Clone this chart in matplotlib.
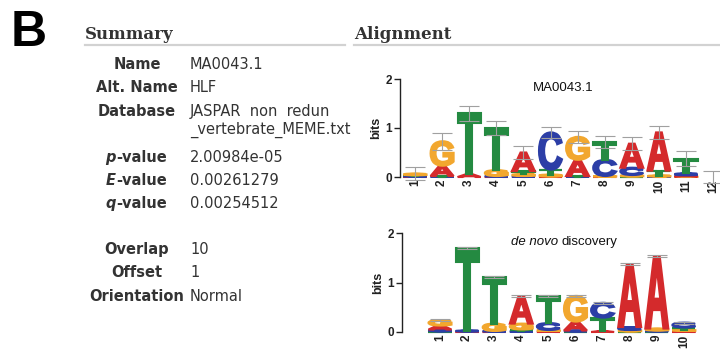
import matplotlib
matplotlib.use('Agg')
import matplotlib.pyplot as plt
import matplotlib.transforms as mtransforms
from matplotlib.font_manager import FontProperties
from matplotlib.lines import Line2D
from matplotlib.patches import PathPatch
from matplotlib.textpath import TextPath

W, H = 720, 352

# --- summary table ---
summary_labels = ['Name', 'Alt. Name', 'Database', 'p-value', 'E-value', 'q-value',
                  'Overlap', 'Offset', 'Orientation']
summary_values = ['MA0043.1', 'HLF', 'JASPAR  non  redun\n_vertebrate_MEME.txt',
                  '2.00984e-05', '0.00261279', '0.00254512', '10', '1', 'Normal']

# --- reference motif MA0043.1 (bits per base) ---
ref_positions = [1, 2, 3, 4, 5, 6, 7, 8, 9, 10, 11, 12]
ref_A = [0.010, 0.21, 0.06, 0.01, 0.38, 0.01, 0.33, 0.01, 0.49, 0.78, 0.025, 0.0]
ref_C = [0.010, 0.01, 0.00, 0.01, 0.02, 0.76, 0.01, 0.33, 0.15, 0.01, 0.040, 0.0]
ref_G = [0.035, 0.50, 0.00, 0.12, 0.04, 0.04, 0.47, 0.01, 0.03, 0.02, 0.010, 0.0]
ref_T = [0.015, 0.01, 1.24, 0.86, 0.06, 0.10, 0.01, 0.36, 0.01, 0.10, 0.300, 0.0]
ref_err = [0.14, 0.17, 0.15, 0.14, 0.13, 0.12, 0.12, 0.12, 0.13, 0.13, 0.15, 0.12]

# --- de novo motif ---
dn_positions = [1, 2, 3, 4, 5, 6, 7, 8, 9, 10]
dn_A = [0.08, 0.01, 0.01, 0.55, 0.02, 0.18, 0.02, 1.27, 1.46, 0.02]
dn_C = [0.04, 0.02, 0.01, 0.02, 0.14, 0.02, 0.30, 0.06, 0.02, 0.10]
dn_G = [0.11, 0.00, 0.15, 0.12, 0.02, 0.52, 0.00, 0.03, 0.04, 0.03]
dn_T = [0.01, 1.66, 0.95, 0.03, 0.54, 0.01, 0.27, 0.01, 0.01, 0.04]
dn_err = [0.02, 0.02, 0.02, 0.02, 0.02, 0.02, 0.02, 0.02, 0.02, 0.02]

BASE_COLORS = {'A': '#d42a2c', 'C': '#2c3ea6', 'G': '#f2a72e', 'T': '#248a41'}
TEXT = '#333333'
LOGO_FAMILY = 'Liberation Sans'

GLYPH_FONT = FontProperties(family=LOGO_FAMILY, weight='bold')
GLYPHS = {b: TextPath((0, 0), b, size=1, prop=GLYPH_FONT) for b in 'ACGT'}


def fx(x):
    return x / W


def fy(y):
    return 1 - y / H


def draw_letter(ax, base, x, y, w, h):
    if h <= 0:
        return
    path = GLYPHS[base]
    ext = path.get_extents()
    t = (mtransforms.Affine2D()
         .translate(-ext.x0, -ext.y0)
         .scale(w / ext.width, h / ext.height)
         .translate(x - w / 2, y))
    c = BASE_COLORS[base]
    # stroke in the fill colour makes the stems heavier
    ax.add_patch(PathPatch(t.transform_path(path), lw=1.5, ec=c, fc=c,
                           joinstyle='miter', clip_on=False, zorder=2))


def draw_logo(ax, positions, A, C, G, T, errs):
    tops = []
    for i, pos in enumerate(positions):
        col = sorted(zip([A[i], C[i], G[i], T[i]], 'ACGT'))
        y = 0.0
        for h, b in col:
            draw_letter(ax, b, pos, y, 0.85, h)
            y += h
        tops.append(y)
    ax.errorbar(positions, tops, yerr=errs, fmt='none', ecolor='#a0a0a0',
                elinewidth=0.8, capsize=7, capthick=0.8, zorder=3, clip_on=False)

    ax.set_ylim(0, 2)
    for s in ['top', 'right', 'bottom']:
        ax.spines[s].set_visible(False)
    ax.spines['left'].set_color('#222222')
    ax.spines['left'].set_linewidth(1.0)
    ax.set_yticks([0, 1, 2])
    ax.set_yticklabels(['0', '1', '2'], fontsize=8.5, fontweight='bold',
                       family=LOGO_FAMILY, color='#222222')
    ax.tick_params(axis='y', length=4, width=1, pad=2, color='#222222')
    ax.set_xticks(positions)
    ax.set_xticklabels([str(p) for p in positions], rotation=90, fontsize=8.5,
                       fontweight='bold', family=LOGO_FAMILY, color='#222222')
    ax.tick_params(axis='x', length=0, pad=2)
    ax.set_ylabel('bits', fontsize=9, fontweight='bold', family=LOGO_FAMILY,
                  color='#222222', labelpad=2)
    ax.patch.set_alpha(0)


fig = plt.figure(figsize=(7.2, 3.52), dpi=100)

# panel letter
fig.text(fx(11), fy(46), 'B', fontsize=36, fontweight='bold', family=LOGO_FAMILY,
         va='baseline', ha='left', color='black')

# section headings with grey rules
for label, x0, x1 in [('Summary', 85, 345), ('Alignment', 354, 720)]:
    fig.text(fx(x0), fy(39), label, fontsize=12, fontweight='bold',
             family='DejaVu Serif', color=TEXT, va='baseline', ha='left')
    fig.add_artist(Line2D([fx(x0), fx(x1)], [fy(45), fy(45)], color='#d2d2d2', lw=1.6))

# summary rows
row_y = [64, 87, 111, 157, 180, 203, 249, 272, 296]
label_x, value_x = 137, 190
for lab, val, y in zip(summary_labels, summary_values, row_y):
    base = fy(y + 5.3)
    if lab.endswith('-value'):
        split = 116
        fig.text(fx(split), base, lab[0], fontsize=10.5, fontweight='bold',
                 style='italic', color=TEXT, ha='right', va='baseline')
        fig.text(fx(split), base, lab[1:], fontsize=10.5, fontweight='bold',
                 color=TEXT, ha='left', va='baseline')
    else:
        fig.text(fx(label_x), base, lab, fontsize=10.5, fontweight='bold',
                 color=TEXT, ha='center', va='baseline')
    for k, line in enumerate(val.split('\n')):
        fig.text(fx(value_x), fy(y + 5.3 + 17 * k), line, fontsize=10.5,
                 color=TEXT, ha='left', va='baseline')

# logo axes, one column = 27.1 px; de novo motif sits one column right (offset 1)
col_px = 27.1
ax1 = fig.add_axes([fx(400), fy(177), 320 / W, 98 / H])
ax1.set_xlim(1 - 15 / col_px, 1 - 15 / col_px + 320 / col_px)
draw_logo(ax1, ref_positions, ref_A, ref_C, ref_G, ref_T, ref_err)
fig.text(fx(563), fy(88), 'MA0043.1', fontsize=9.5, family=LOGO_FAMILY,
         color='#111111', ha='center', va='center')

ax2 = fig.add_axes([fx(402), fy(332), 318 / W, 99 / H])
ax2.set_xlim(1 - 38 / col_px, 1 - 38 / col_px + 318 / col_px)
draw_logo(ax2, dn_positions, dn_A, dn_C, dn_G, dn_T, dn_err)
fig.text(fx(558), fy(242), 'de novo', fontsize=9.5, family=LOGO_FAMILY,
         style='italic', color='#111111', ha='right', va='center')
fig.text(fx(562), fy(242), 'discovery', fontsize=9.5, family=LOGO_FAMILY,
         color='#111111', ha='left', va='center')

fig.savefig('out.png', dpi=100, facecolor='white')
